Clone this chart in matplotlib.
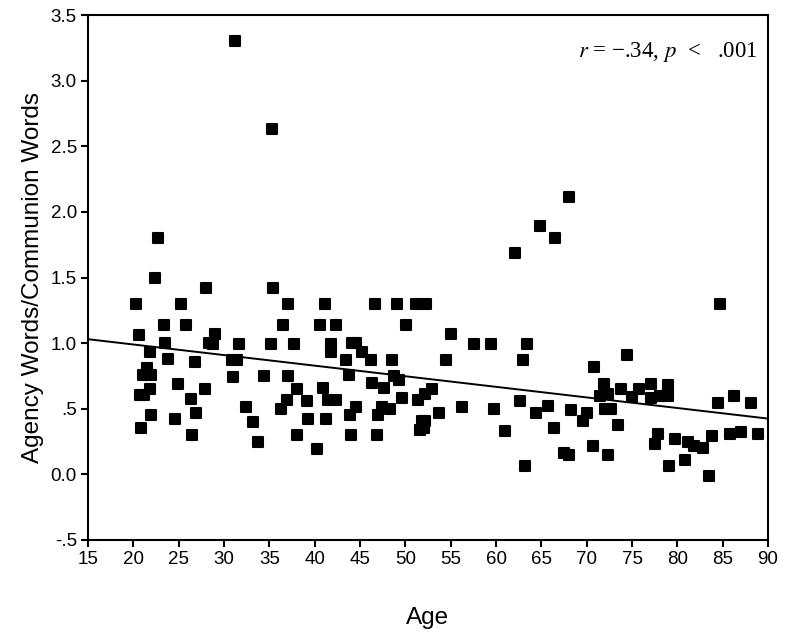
import matplotlib
matplotlib.use("Agg")
import matplotlib.pyplot as plt
from matplotlib.markers import MarkerStyle

age = [31.2, 35.3, 22.75, 22.35, 28.0, 20.3, 25.3, 23.4, 25.8, 20.6, 29.0, 23.5, 28.3, 28.8, 31.6,
       21.8, 23.85, 26.8, 30.9, 31.4, 21.5, 21.1, 22.0, 31.0, 34.4, 24.9, 20.7, 21.2, 21.8, 27.9,
       26.4, 32.4, 21.95, 26.9, 24.6, 33.2, 20.8, 26.5, 33.7, 35.4, 37.1, 41.1, 46.6, 49.1, 51.2,
       52.3, 36.5, 40.6, 42.3, 50.1, 35.2, 37.7, 41.8, 41.8, 44.1, 44.6, 45.2, 46.2, 43.5, 48.5,
       37.1, 43.8, 48.8, 49.3, 38.0, 40.9, 46.3, 47.7, 39.2, 41.5, 42.4, 36.9, 36.3, 44.6, 43.9,
       47.4, 48.3, 47.0, 49.6, 51.4, 52.2, 51.8, 51.6, 39.3, 41.2, 38.0, 44.0, 46.9, 40.3, 64.9,
       66.5, 62.1, 68.0, 55.05, 57.6, 59.5, 63.4, 54.5, 63.0, 70.8, 52.9, 53.7, 56.2, 59.8, 62.6,
       64.4, 65.7, 68.3, 70.05, 69.6, 61.0, 66.4, 70.7, 67.5, 68.0, 63.2, 84.7, 74.5, 71.9, 72.4,
       71.5, 73.8, 75.75, 75.0, 77.1, 77.1, 79.0, 79.0, 78.1, 72.0, 72.7, 73.4, 72.3, 77.9, 77.5,
       79.75, 81.2, 81.8, 82.8, 83.8, 79.1, 80.8, 83.5, 84.5, 86.3, 88.1, 85.8, 87.0, 88.9, 52.2,
       52.1]
ratio = [3.30, 2.63, 1.80, 1.50, 1.42, 1.30, 1.30, 1.14, 1.14, 1.06, 1.07, 1.00, 1.00, 0.99, 0.99,
         0.93, 0.88, 0.86, 0.875, 0.875, 0.81, 0.76, 0.76, 0.74, 0.75, 0.69, 0.605, 0.605, 0.65, 0.65,
         0.575, 0.51, 0.45, 0.47, 0.42, 0.40, 0.35, 0.30, 0.25, 1.42, 1.30, 1.30, 1.30, 1.30, 1.30,
         1.30, 1.14, 1.14, 1.14, 1.14, 0.99, 0.99, 0.99, 0.93, 1.00, 1.00, 0.93, 0.875, 0.875, 0.87,
         0.75, 0.76, 0.75, 0.72, 0.65, 0.66, 0.70, 0.655, 0.56, 0.565, 0.565, 0.565, 0.50, 0.51, 0.45,
         0.51, 0.50, 0.45, 0.58, 0.565, 0.615, 0.41, 0.34, 0.42, 0.42, 0.30, 0.30, 0.30, 0.19, 1.89,
         1.80, 1.69, 2.11, 1.07, 0.99, 0.99, 0.99, 0.875, 0.875, 0.82, 0.65, 0.47, 0.51, 0.50, 0.56,
         0.47, 0.52, 0.49, 0.47, 0.41, 0.33, 0.35, 0.22, 0.165, 0.145, 0.066, 1.30, 0.91, 0.685, 0.615,
         0.60, 0.65, 0.65, 0.59, 0.69, 0.58, 0.68, 0.60, 0.60, 0.50, 0.50, 0.38, 0.15, 0.31, 0.23,
         0.27, 0.25, 0.22, 0.20, 0.295, 0.066, 0.11, -0.01, 0.545, 0.60, 0.545, 0.31, 0.32, 0.31, 0.41,
         0.35]

fit_x = [15, 90]
fit_y = [1.03, 0.425]

xticks = list(range(15, 91, 5))
yticks = [-0.5, 0.0, 0.5, 1.0, 1.5, 2.0, 2.5, 3.0, 3.5]
ytick_labels = ["-.5", "0.0", ".5", "1.0", "1.5", "2.0", "2.5", "3.0", "3.5"]

plt.rcParams['font.family'] = ['Liberation Sans', 'DejaVu Sans']
plt.rcParams['mathtext.fontset'] = 'stix'

fig = plt.figure(figsize=(7.87, 6.4), dpi=100)
ax = fig.add_axes([0.1118, 0.15625, 0.8641, 0.8203])

ax.plot(age, ratio, linestyle='none', marker=MarkerStyle('s', joinstyle='round'),
        markersize=7, markeredgewidth=1.5, color='black', markeredgecolor='black')
ax.plot(fit_x, fit_y, color='black', linewidth=1.4)

ax.set_xlim(15, 90)
ax.set_ylim(-0.5, 3.5)
ax.set_xticks(xticks)
ax.set_yticks(yticks)
ax.set_yticklabels(ytick_labels)
ax.tick_params(axis='both', direction='out', length=5, width=1.5, labelsize=13.5, pad=3)
for s in ax.spines.values():
    s.set_linewidth(1.5)

ax.set_xlabel("Age", fontsize=17.5, labelpad=28)
ax.set_ylabel("Agency Words/Communion Words", fontsize=17.5, labelpad=5)

ax.text(0.985, 0.93, "$r$ = \u2212.34, $p$  <   .001", transform=ax.transAxes,
        ha='right', va='center', fontsize=16.5, family='Liberation Serif')

fig.savefig("out.png", dpi=100)
